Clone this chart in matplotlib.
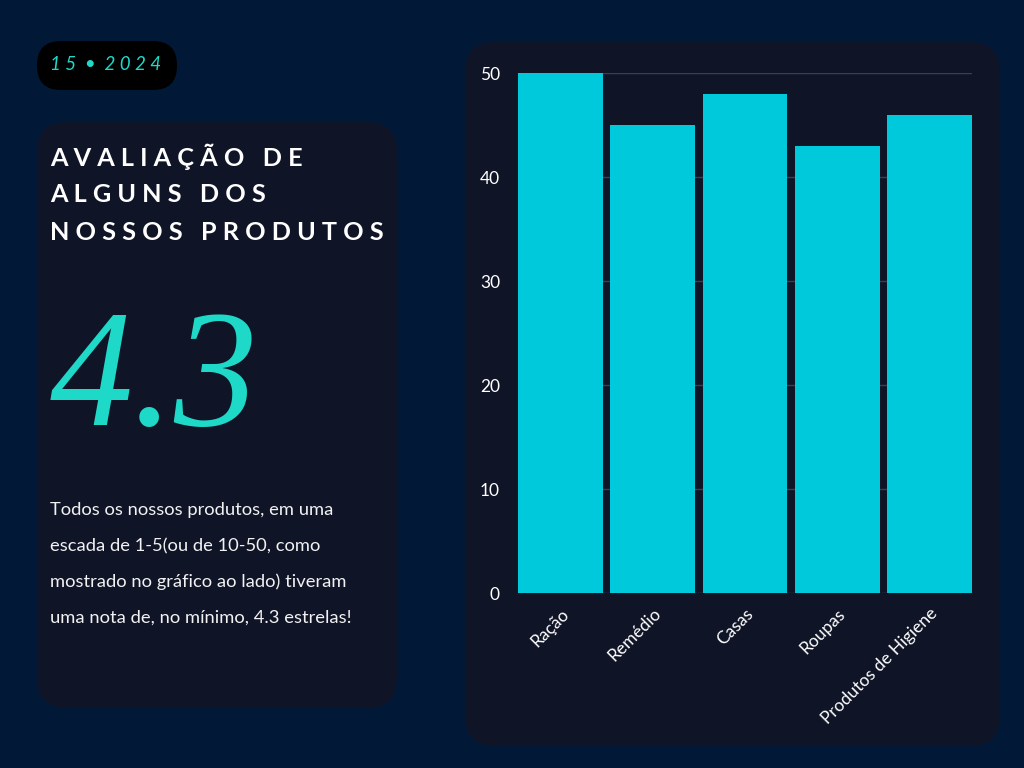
import matplotlib.pyplot as plt
from matplotlib.patches import FancyBboxPatch

# data
categorias = ['Ração', 'Remédio', 'Casas', 'Roupas', 'Produtos de Higiene']
notas = [50, 45, 48, 43, 46]
yticks = [0, 10, 20, 30, 40, 50]

data_badge = '1 5  •  2 0 2 4'
titulo = ['AVALIAÇÃO DE', 'ALGUNS DOS', 'NOSSOS PRODUTOS']
nota_media = '4.3'
texto = ['Todos os nossos produtos, em uma',
         'escada de 1-5(ou de 10-50, como',
         'mostrado no gráfico ao lado) tiveram',
         'uma nota de, no mínimo, 4.3 estrelas!']

BG = '#011936'
CARD = '#0F1427'
BAR = '#00C9DB'
TEAL = '#1FD9C8'

plt.rcParams['font.family'] = ['Lato', 'DejaVu Sans']

fig = plt.figure(figsize=(10.24, 7.68), dpi=100, facecolor=BG)

# background layer in pixel coords
bg = fig.add_axes([0, 0, 1, 1])
bg.set_xlim(0, 1024)
bg.set_ylim(768, 0)
bg.axis('off')


def card(x0, y0, x1, y1, color, r):
    bg.add_patch(FancyBboxPatch((x0 + r, y0 + r), (x1 - x0) - 2 * r, (y1 - y0) - 2 * r,
                                boxstyle=f'round,pad={r}', fc=color, ec='none'))


card(37, 41, 177, 90, '#000000', 24)
card(37, 122, 397, 708, CARD, 30)
card(465, 42, 1000, 746, CARD, 30)

bg.text(50, 65, data_badge, color=TEAL, fontsize=13.5, style='italic',
        va='center', ha='left')

# letter-spaced title
for i, linha in enumerate(titulo):
    spaced = '   '.join(' '.join(w) for w in linha.split(' '))
    bg.text(50, 157 + i * 37.5, spaced, color='white', fontsize=18.2,
            fontweight='bold', va='center', ha='left')

bg.text(50, 385, nota_media, color=TEAL, fontsize=120, style='italic',
        family='Liberation Serif', va='center', ha='left')

for i, linha in enumerate(texto):
    bg.text(50, 510 + i * 36, linha, color='#F2F2F2', fontsize=13.2,
            va='center', ha='left')

# chart
ax = fig.add_axes([518 / 1024, (768 - 593) / 768, (972 - 518) / 1024, (593 - 73) / 768])
ax.set_facecolor('none')
x = range(len(categorias))
ax.bar(x, notas, width=0.92, color=BAR, zorder=3)
ax.set_xlim(-0.46, len(categorias) - 0.54)
ax.set_ylim(0, 50)
ax.set_yticks(yticks)
ax.yaxis.grid(True, color='#3B4050', lw=1, zorder=0)
ax.set_axisbelow(True)
for s in ax.spines.values():
    s.set_visible(False)
ax.tick_params(axis='both', length=0, colors='white', labelsize=12.5)
ax.tick_params(axis='y', pad=13)
ax.tick_params(axis='x', pad=9)
ax.set_xticks(list(x))
ax.set_xticklabels(categorias, rotation=45, ha='right', rotation_mode='anchor')

fig.savefig('out.png', dpi=100, facecolor=BG)
